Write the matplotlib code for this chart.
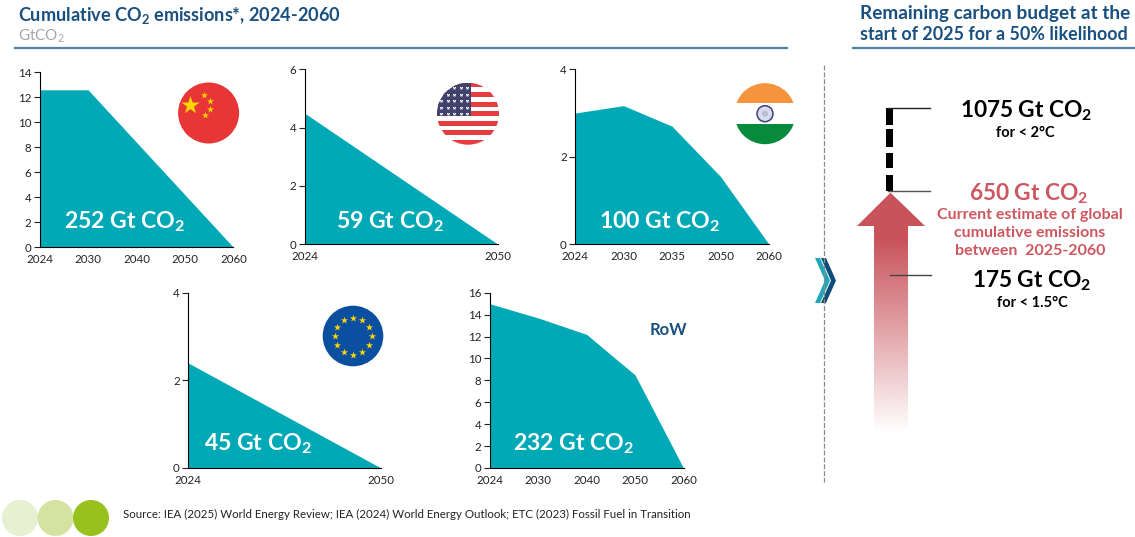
#!/usr/bin/env python

import matplotlib
matplotlib.use("Agg")
import matplotlib.pyplot as plt
import numpy as np
from matplotlib.patches import Circle, Ellipse, Polygon, Rectangle

plt.rcParams["font.family"] = ["Lato", "DejaVu Sans"]
plt.rcParams["mathtext.default"] = "regular"

W, H = 1135, 537
TEAL = "#00a9b5"
NAVY = "#1a5080"
RED = "#cd5760"

china_years = ["2024", "2030", "2040", "2050", "2060"]
china_values = [12.6, 12.6, 8.4, 4.2, 0]
china_yticks = [0, 2, 4, 6, 8, 10, 12, 14]

usa_years = ["2024", "2050"]
usa_values = [4.5, 0]
usa_yticks = [0, 2, 4, 6]

india_years = ["2024", "2030", "2035", "2050", "2060"]
india_values = [3.0, 3.17, 2.7, 1.55, 0]
india_yticks = [0, 2, 4]

eu_years = ["2024", "2050"]
eu_values = [2.4, 0]
eu_yticks = [0, 2, 4]

row_years = ["2024", "2030", "2040", "2050", "2060"]
row_values = [15, 13.7, 12.2, 8.5, 0]
row_yticks = [0, 2, 4, 6, 8, 10, 12, 14, 16]

fig = plt.figure(figsize=(W / 100, H / 100), dpi=100, facecolor="white")


def area_chart(box, years, values, yticks, label, label_xy):
    left, top, right, bottom = box
    ax = fig.add_axes([left / W, 1 - bottom / H, (right - left) / W, (bottom - top) / H])
    x = np.arange(len(years))
    ax.fill_between(x, values, 0, color=TEAL, linewidth=0)
    ax.set_xlim(0, len(years) - 1)
    ax.set_ylim(0, yticks[-1])
    ax.set_xticks(x, years)
    ax.set_yticks(yticks)
    ax.tick_params(axis="x", length=0, pad=5, labelsize=8.3, colors="#222222")
    ax.tick_params(axis="y", length=4, width=0.8, pad=2, labelsize=8.3, colors="#222222")
    ax.spines[["top", "right"]].set_visible(False)
    ax.patch.set_alpha(0)
    return label, label_xy


labels = [
    area_chart((39.6, 72.3, 233.4, 247.3), china_years, china_values, china_yticks, "252 Gt CO$_2$", (125, 222)),
    area_chart((304.5, 69.3, 498, 244.3), usa_years, usa_values, usa_yticks, "59 Gt CO$_2$", (390, 222)),
    area_chart((575, 69.3, 769, 244.3), india_years, india_values, india_yticks, "100 Gt CO$_2$", (660, 222)),
    area_chart((188, 292.7, 381, 468), eu_years, eu_values, eu_yticks, "45 Gt CO$_2$", (258, 444)),
    area_chart((489.5, 292.7, 683.5, 468), row_years, row_values, row_yticks, "232 Gt CO$_2$", (574, 444)),
]

# everything else is placed in picture pixels
ov = fig.add_axes([0, 0, 1, 1], zorder=5)
ov.set_axis_off()
ov.patch.set_alpha(0)

for text, (tx, ty) in labels:
    ov.text(tx, ty, text, color="white", fontsize=16.6, fontweight="bold", ha="center", va="center")

ov.text(18, 16, "Cumulative CO$_2$ emissions*, 2024-2060", color=NAVY, fontsize=13.1, fontweight="bold", va="center")
ov.text(18, 36, "GtCO$_2$", color="#a6a6a6", fontsize=11, va="center")
ov.text(860, 13, "Remaining carbon budget at the", color=NAVY, fontsize=13.7, fontweight="bold", va="center")
ov.text(860, 34, "start of 2025 for a 50% likelihood", color=NAVY, fontsize=12.9, fontweight="bold", va="center")
ov.plot([15, 787], [48, 48], color="#4f82a8", lw=1.6)
ov.plot([853, 1135], [48, 48], color="#4f82a8", lw=1.6)
ov.plot([824, 824], [65, 482], color="#8c8c8c", lw=0.9, ls=(0, (4, 1.5)))

# China flag
disc = Circle((208.6, 113), 30.5, color="#e83535", lw=0)
ov.add_patch(disc)
ov.scatter([190], [105], marker="*", s=190, color="#ffd500", lw=0)
ov.scatter([204, 210, 210, 204.5], [95, 101, 109, 115], marker="*", s=28, color="#ffd500", lw=0)

# US flag
clip = Circle((468, 113.7), 31, transform=ov.transData)
for i in range(13):
    stripe = Rectangle((437, 82.7 + i * 62 / 13), 62, 62 / 13, color="#e63b3f" if i % 2 == 0 else "white", lw=0)
    ov.add_patch(stripe)
    stripe.set_clip_path(clip)
canton = Rectangle((437, 82.7), 33.5, 33.5, color="#41416e", lw=0)
ov.add_patch(canton)
canton.set_clip_path(clip)
sx, sy = np.meshgrid(np.arange(441, 470, 6.5), np.arange(88, 116, 6.5))
stars = ov.scatter(sx.ravel(), sy.ravel(), marker="*", s=7, color="white", lw=0, zorder=3)
stars.set_clip_path(clip)

# India flag
clip = Circle((765, 113.7), 30.5, transform=ov.transData)
top_band = Rectangle((734, 83), 62, 20.3, color="#f5943c", lw=0)
bot_band = Rectangle((734, 123.6), 62, 21, color="#068a3c", lw=0)
for band in (top_band, bot_band):
    ov.add_patch(band)
    band.set_clip_path(clip)
ov.add_patch(Circle((765, 113.7), 8, fc="#d9dbe8", ec="#39407f", lw=1.1))
ov.add_patch(Circle((765, 113.7), 3, fc="#b9bdd4", lw=0))

# EU flag
ov.add_patch(Circle((353, 336), 30.3, color="#0a4fa0", lw=0))
ang = np.deg2rad(np.arange(0, 360, 30))
ov.scatter(353 + 18.5 * np.cos(ang), 336 + 18.5 * np.sin(ang), marker="*", s=30, color="#ffd500", lw=0)

ov.text(668, 330, "RoW", color=NAVY, fontsize=12, fontweight="bold", ha="center", va="center")

# chevrons
ov.add_patch(Polygon([(815, 258), (820, 258), (830, 280.5), (820, 303), (815, 303), (825, 280.5)], color="#1fa7b8", lw=0))
ov.add_patch(Polygon([(821, 258), (826, 258), (836, 280.5), (826, 303), (821, 303), (831, 280.5)], color="#0f4c78", lw=0))

# gradient arrow
arrow = Polygon([(890.5, 192.7), (925, 226), (908, 226), (908, 433), (874, 433), (874, 226), (857, 226)],
                fc="none", ec="none", transform=ov.transData)
ov.add_patch(arrow)
alpha = np.clip((433 - np.linspace(192, 433, 256)) / (433 - 240), 0, 1).reshape(-1, 1)
rgba = np.ones((256, 1, 4))
rgba[..., :3] = matplotlib.colors.to_rgb("#c9535b")
rgba[..., 3] = alpha
img = ov.imshow(rgba, extent=(857, 925, 433, 192), aspect="auto", interpolation="bilinear")
img.set_clip_path(arrow)

# budget markers
for y0, y1 in [(108, 125), (129, 147), (153, 168), (175, 191)]:
    ov.add_patch(Rectangle((886, y0), 7, y1 - y0, color="black", lw=0))
ov.plot([888, 930], [108, 108], color="#222222", lw=1)
ov.plot([888, 930], [191, 191], color="#555555", lw=1)
ov.plot([890, 930.5], [274.7, 274.7], color="#444444", lw=1)

ov.text(1026, 111, "1075 Gt CO$_2$", color="black", fontsize=16.3, fontweight="bold", ha="center", va="center")
ov.text(1025, 133, "for < 2°C", color="black", fontsize=10.5, fontweight="bold", ha="center", va="center")
ov.text(1029, 194, "650 Gt CO$_2$", color=RED, fontsize=16.3, fontweight="bold", ha="center", va="center")
ov.text(1030, 215, "Current estimate of global", color=RED, fontsize=11.5, fontweight="bold", ha="center", va="center")
ov.text(1030, 233, "cumulative emissions", color=RED, fontsize=11.5, fontweight="bold", ha="center", va="center")
ov.text(1030, 251, "between  2025-2060", color=RED, fontsize=11.5, fontweight="bold", ha="center", va="center")
ov.text(1032, 281, "175 Gt CO$_2$", color="black", fontsize=16.3, fontweight="bold", ha="center", va="center")
ov.text(1032, 303, "for < 1.5°C", color="black", fontsize=10.5, fontweight="bold", ha="center", va="center")

# logo dots and source
for cx, col in zip([20, 55.5, 91], ["#e8f0d2", "#d5e3a2", "#98c11d"]):
    ov.add_patch(Ellipse((cx, 518), 36, 36, color=col, lw=0))
ov.text(123, 514, "Source: IEA (2025) World Energy Review; IEA (2024) World Energy Outlook; ETC (2023) Fossil Fuel in Transition",
        color="#222222", fontsize=8.3, va="center")

ov.set_xlim(0, W)
ov.set_ylim(H, 0)

fig.savefig("out.png", dpi=100)
